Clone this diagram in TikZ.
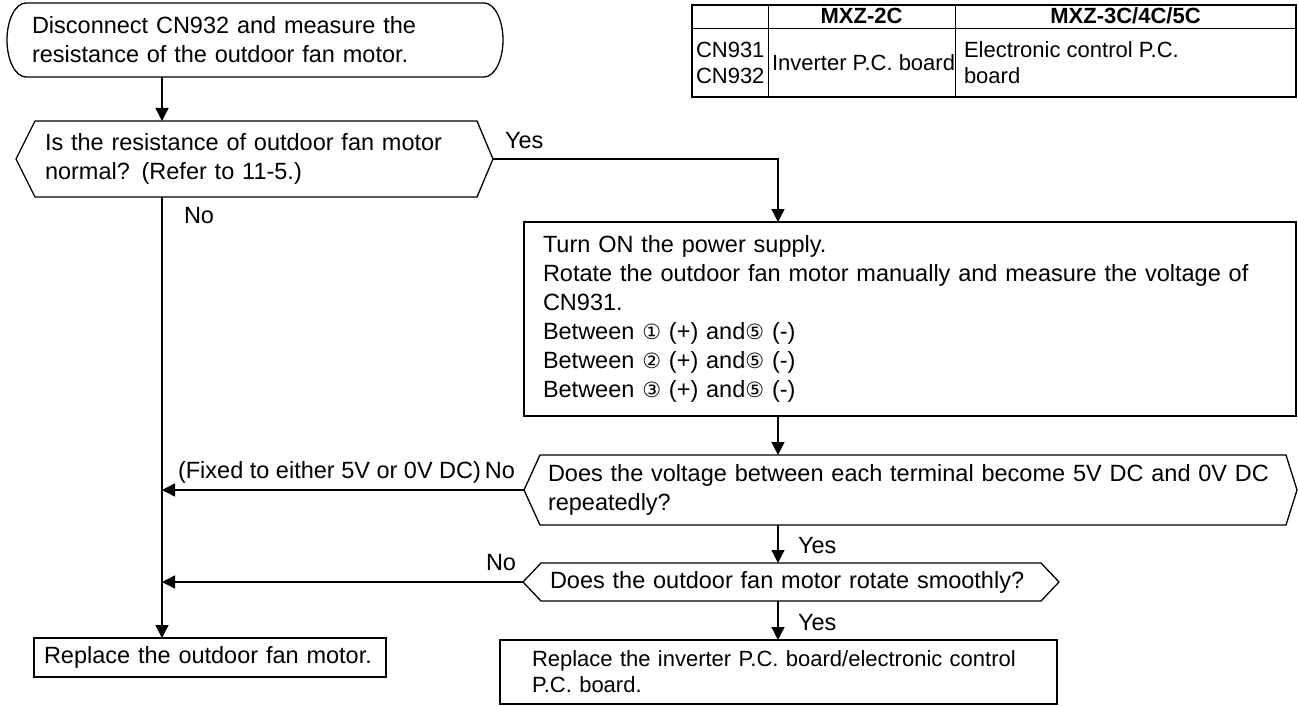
\documentclass[tikz,border=0pt]{standalone}
\usepackage{fontspec}
\setmainfont{Liberation Sans}
\newfontfamily\symfont{DejaVu Sans}
\usetikzlibrary{arrows.meta,calc}
\newcommand\fsmain{\fontsize{23.5pt}{29pt}\selectfont}
\newcommand\fssmall{\fontsize{22pt}{26pt}\selectfont}
\newcommand\cn[1]{{\symfont\fontsize{21pt}{21pt}\selectfont #1}}
\begin{document}
\begin{tikzpicture}[x=1pt,y=-1pt,
  every node/.style={font=\fsmain, inner sep=0pt, outer sep=0pt},
  ln/.style={line width=1.3pt},
  arr/.style={ln, -{Triangle[length=13pt,width=13pt]}},
  startbody/.style={align=left, anchor=north west},
  procbox/.style={draw, ln, align=left, anchor=north west},
  endbox/.style={draw, line width=2.8pt, align=left, anchor=north west},
  hexbody/.style={align=left, anchor=north west},
  lbl/.style={anchor=base west},
  cell/.style={font=\fssmall, align=left, anchor=west},
  hcell/.style={font=\fssmall\bfseries, anchor=base},
]
\useasboundingbox (0,0) rectangle (1298,706);
% spines
\coordinate (lsp) at (162,0);
\coordinate (rsp) at (778,0);
% start (terminal with elliptic ends)
\node[startbody, minimum height=74pt, text width=446pt, inner xsep=25pt] (s) at (7,3)
  {Disconnect CN932 and measure the\\resistance of the outdoor fan motor.};
\draw[ln] ($(s.north west)+(19,0)$) -- ($(s.north east)+(-19,0)$)
  arc[start angle=-90, end angle=90, x radius=19, y radius=37]
  -- ($(s.south west)+(19,0)$)
  arc[start angle=90, end angle=270, x radius=19, y radius=37] -- cycle;
% decision 1
\node[hexbody, minimum height=76pt, text width=422pt, inner xsep=10pt] (q1) at (35,121)
  {Is the resistance of outdoor fan motor\\normal? (Refer to 11-5.)};
\coordinate (q1r) at ($(q1.east)+(16,0)$);
\coordinate (q1l) at ($(q1.west)+(-19,0)$);
\draw[ln] (q1.north west) -- (q1.north east) -- (q1r) -- (q1.south east) -- (q1.south west) -- (q1l) -- cycle;
% process box
\node[procbox, minimum height=194pt, text width=734pt, inner xsep=19pt] (b2) at (524,222)
  {Turn ON the power supply.\\
   Rotate the outdoor fan motor manually and measure the voltage of\\
   CN931.\\
   Between \cn{①} (+) and\cn{⑤} (-)\\
   Between \cn{②} (+) and\cn{⑤} (-)\\
   Between \cn{③} (+) and\cn{⑤} (-)};
% decision 2
\node[hexbody, minimum height=70pt, text width=730pt, inner xsep=8pt] (q2) at (540,455)
  {Does the voltage between each terminal become 5V DC and 0V DC\\repeatedly?};
\coordinate (q2r) at ($(q2.east)+(11,0)$);
\coordinate (q2l) at ($(q2.west)+(-16,0)$);
\draw[ln] (q2.north west) -- (q2.north east) -- (q2r) -- (q2.south east) -- (q2.south west) -- (q2l) -- cycle;
% decision 3
\node[hexbody, minimum height=38pt, text width=482pt, inner xsep=9pt] (q3) at (541,563)
  {Does the outdoor fan motor rotate smoothly?};
\coordinate (q3r) at ($(q3.east)+(18,0)$);
\coordinate (q3l) at ($(q3.west)+(-18,0)$);
\draw[ln] (q3.north west) -- (q3.north east) -- (q3r) -- (q3.south east) -- (q3.south west) -- (q3l) -- cycle;
% end boxes
\node[endbox, minimum height=39pt, text width=332pt, inner xsep=10pt] (b3) at (34,638)
  {Replace the outdoor fan motor.};
\node[endbox, font=\fssmall, minimum height=64pt, text width=493pt, inner xsep=32pt] (b4) at (500,640)
  {Replace the inverter P.C. board/electronic control\\P.C. board.};
% connectors
\draw[arr] (s.south -| lsp) -- (q1.north -| lsp);
\draw[arr] (q1r) -| (b2.north -| rsp);
\draw[arr] (q1.south -| lsp) -- (b3.north -| lsp);
\draw[arr] (b2.south -| rsp) -- (q2.north -| rsp);
\draw[arr] (q2l) -- (q2l -| lsp);
\draw[arr] (q2.south -| rsp) -- (q3.north -| rsp);
\draw[arr] (q3l) -- (q3l -| lsp);
\draw[arr] (q3.south -| rsp) -- (b4.north -| rsp);
% labels
\node[lbl] (y1) at (505,148) {Yes};
\node[lbl] (n1) at (184,223) {No};
\node[anchor=base east] (n2) at (515,478) {(Fixed to either 5V or 0V DC)\,No};
\node[lbl] (y2) at (798,553) {Yes};
\node[lbl] (n3) at (486,570) {No};
\node[lbl] (y3) at (798,630) {Yes};
% table
\draw[line width=2pt] (692,5) rectangle (1296,97);
\draw[line width=1pt] (692,29) -- (1296,29);
\draw[line width=1pt] (768,5) -- (768,97);
\draw[line width=1pt] (955,5) -- (955,97);
\node[hcell] (h2) at (861.5,24) {MXZ-2C};
\node[hcell] (h3) at (1125.5,24) {MXZ-3C/4C/5C};
\node[cell] (c1) at (696,63) {CN931\\CN932};
\node[cell] (c2) at (772,63) {Inverter P.C. board};
\node[cell] (c3) at (964,63) {Electronic control P.C.\\board};
\end{tikzpicture}
\end{document}
